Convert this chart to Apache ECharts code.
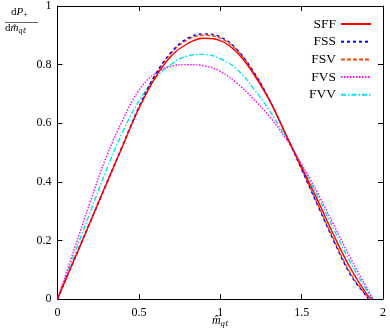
<!DOCTYPE html>
<html><head><meta charset="utf-8">
<script src="https://cdn.jsdelivr.net/npm/echarts@6/dist/echarts.min.js"></script>
<style>html,body{margin:0;padding:0;background:#fff}#c{width:390px;height:330px}</style>
</head><body><div id="c"></div>
<script>
var xs = [0,0.1,0.2,0.3,0.4,0.5,0.6,0.7,0.8,0.9,1.0,1.1,1.2,1.3,1.4,1.5,1.6,1.7,1.8,1.9];
var SFF = [0,.131,.262,.393,.522,.65,.755,.83,.872,.89,.882,.843,.772,.68,.565,.45,.335,.215,.105,.017];
var FSS = [0,.131,.262,.393,.524,.655,.765,.843,.89,.905,.895,.853,.78,.683,.565,.442,.318,.195,.083,.008];
var FSV = [0,.13,.26,.39,.522,.653,.762,.84,.885,.9,.89,.85,.777,.682,.565,.445,.322,.2,.088,.01];
var FVS = [0,.165,.33,.485,.61,.712,.77,.795,.80,.796,.777,.738,.685,.625,.55,.46,.36,.25,.14,.038];
var FVV = [0,.148,.295,.44,.57,.675,.752,.802,.83,.835,.82,.785,.722,.645,.555,.455,.35,.235,.125,.03];
var endX = {SFF:1.927, FSS:1.91, FSV:1.915, FVS:1.94, FVV:1.935};
var xTicks = [0,0.5,1,1.5,2];
var yTicks = [0,0.2,0.4,0.6,0.8,1];

var FONT = 'Liberation Serif';
function pairs(vals, name){
  var d = xs.map(function(x,i){return [x, vals[i]];});
  d.push([endX[name], 0]);
  return d;
}
var styles = {
  SFF:{color:'#ff0000', type:'solid'},
  FSS:{color:'#0000ff', type:[3,3]},
  FSV:{color:'#ff4500', type:[4,2]},
  FVS:{color:'#ff00ff', type:[1.5,1.5]},
  FVV:{color:'#00e5ee', type:[5,2,1.5,2]}
};
var seriesData = {SFF:SFF, FSS:FSS, FSV:FSV, FVS:FVS, FVV:FVV};
var names = ['SFF','FSS','FSV','FVS','FVV'];
var series = names.map(function(n){
  return {
    name:n, type:'line', data:pairs(seriesData[n], n), smooth:0.4, symbol:'none',
    lineStyle:{color:styles[n].color, type:styles[n].type, width:1.4},
    itemStyle:{color:styles[n].color}, z: 10 - names.indexOf(n)
  };
});
var tickCommon = {show:true, inside:true, length:5, lineStyle:{color:'#000', width:1}};
var chart = echarts.init(document.getElementById('c'), null, {renderer:'canvas'});
chart.setOption({
  animation:false,
  grid:{left:57.5, right:7, top:5, bottom:31, containLabel:false},
  legend:{
    data:names,
    orient:'vertical', right:13, top:12, align:'right',
    itemWidth:30, itemHeight:14, itemGap:3.7,
    itemStyle:{opacity:0},
    textStyle:{fontFamily:FONT, fontSize:13.5, color:'#000'},
    selectedMode:false
  },
  xAxis:[
    {type:'value', min:0, max:2, interval:0.5, position:'bottom',
     axisLine:{show:true, onZero:false, lineStyle:{color:'#000', width:1}},
     axisTick:tickCommon, splitLine:{show:false},
     axisLabel:{fontFamily:FONT, fontSize:12, color:'#000', margin:8}},
    {type:'value', min:0, max:2, interval:0.5, position:'top',
     axisLine:{show:true, onZero:false, lineStyle:{color:'#000', width:1}},
     axisTick:tickCommon, splitLine:{show:false}, axisLabel:{show:false}}
  ],
  yAxis:[
    {type:'value', min:0, max:1, interval:0.2, position:'left',
     axisLine:{show:true, onZero:false, lineStyle:{color:'#000', width:1}},
     axisTick:tickCommon, splitLine:{show:false},
     axisLabel:{fontFamily:FONT, fontSize:12, color:'#000', margin:6}},
    {type:'value', min:0, max:1, interval:0.2, position:'right',
     axisLine:{show:true, onZero:false, lineStyle:{color:'#000', width:1}},
     axisTick:tickCommon, splitLine:{show:false}, axisLabel:{show:false}}
  ],
  series:series,
  graphic:[
    {type:'text', left:212, top:315, style:{
      text:'{i|m̂}{s|qℓ}', rich:{
        i:{fontFamily:FONT, fontStyle:'italic', fontSize:12, fill:'#000'},
        s:{fontFamily:FONT, fontStyle:'italic', fontSize:8, fill:'#000', padding:[5,0,0,0]}
      }}},
    {type:'text', left:11, top:7, style:{
      text:'{r|d}{i|P}{s|+}', rich:{
        r:{fontFamily:FONT, fontSize:11, fill:'#000'},
        i:{fontFamily:FONT, fontStyle:'italic', fontSize:11, fill:'#000'},
        s:{fontFamily:FONT, fontSize:8, fill:'#000', padding:[4,0,0,0]}
      }}},
    {type:'line', shape:{x1:5, y1:22.5, x2:38, y2:22.5}, style:{stroke:'#000', lineWidth:0.6}},
    {type:'text', left:5, top:23, style:{
      text:'{r|d}{i|m̂}{s|qℓ}', rich:{
        r:{fontFamily:FONT, fontSize:11, fill:'#000'},
        i:{fontFamily:FONT, fontStyle:'italic', fontSize:11, fill:'#000'},
        s:{fontFamily:FONT, fontStyle:'italic', fontSize:8, fill:'#000', padding:[4,0,0,0]}
      }}}
  ]
});
</script></body></html>
